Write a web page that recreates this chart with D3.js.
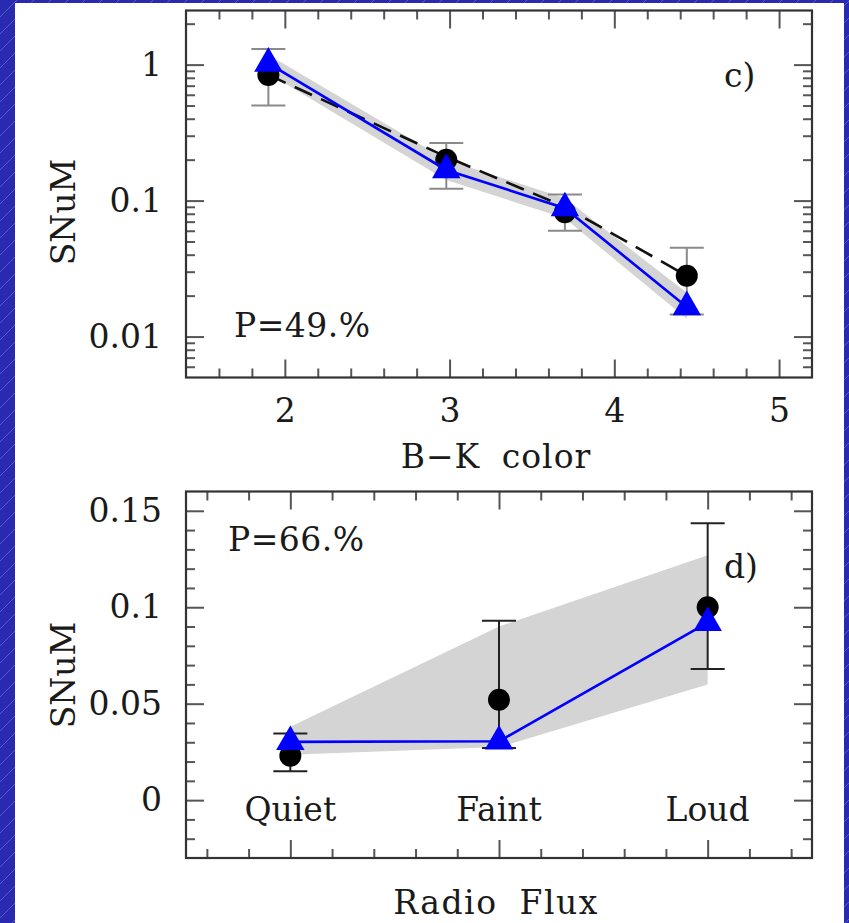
<!DOCTYPE html>
<html>
<head>
<meta charset="utf-8">
<script src="https://cdn.jsdelivr.net/npm/d3@7"></script>
<style>
  html, body { margin: 0; padding: 0; background: #2a2ab0; }
  svg { display: block; }
  text { font-family: "DejaVu Serif", serif; fill: #1a1a1a; }
</style>
</head>
<body>
<div id="chart"></div>
<script>
'use strict'

const width = 849;
const height = 923;
const fs = 33;

/* panel c) : SNuM vs B-K colour (log y) */
const bkColor    = [1.9, 2.98, 3.7, 4.44];
const snumObsC   = [0.84, 0.20, 0.082, 0.028];
const errHiC     = [1.3, 0.265, 0.111, 0.045];
const errLoC     = [0.5, 0.122, 0.06, 0.0145];
const snumFitC   = [0.84, 0.21, 0.09, 0.028];
const snumModelC = [1.02, 0.168, 0.088, 0.0165];
const bandHiC    = [1.18, 0.2, 0.104, 0.021];
const bandLoC    = [0.86, 0.142, 0.074, 0.0135];
const xTicksC    = [2, 3, 4, 5];
const yTicksC    = [0.01, 0.1, 1];

/* panel d) : SNuM vs radio flux */
const radioClass = ['Quiet', 'Faint', 'Loud'];
const radioPos   = [1, 2, 3];
const snumObsD   = [0.023, 0.052, 0.100];
const errHiD     = [0.0345, 0.093, 0.1435];
const errLoD     = [0.015, 0.027, 0.068];
const snumModelD = [0.0302, 0.0305, 0.092];
const bandHiD    = [0.038, 0.09, 0.127];
const bandLoD    = [0.0235, 0.0275, 0.06];
const yTicksD    = [0, 0.05, 0.1, 0.15];

const svg = d3.select('#chart').append('svg')
    .attr('width', width)
    .attr('height', height);

/* blue striped backdrop + white sheet */
const defs = svg.append('defs');
const pat = defs.append('pattern')
    .attr('id', 'stripes')
    .attr('patternUnits', 'userSpaceOnUse')
    .attr('width', 17).attr('height', 17);
pat.append('rect').attr('width', 17).attr('height', 17).attr('fill', '#2a2ab0');
pat.append('line')
    .attr('x1', 0).attr('y1', 17).attr('x2', 17).attr('y2', 0)
    .attr('stroke', '#6262d6').attr('stroke-width', 0.8);

svg.append('rect').attr('width', width).attr('height', height).attr('fill', 'url(#stripes)');
svg.append('rect').attr('x', 15).attr('y', 3).attr('width', 829).attr('height', height - 3).attr('fill', '#fff');

const left = 186, right = 812;

function frameAxes (g, x, y, xMaj, xMin, yMaj, yMin, top, bottom) {
    const tick = (axis, vals, size) => axis.tickValues(vals).tickSize(-size).tickFormat('');
    [[xMaj, 18], [xMin, 9]].forEach(([vals, s]) => {
        g.append('g').attr('transform', `translate(0,${bottom})`).call(tick(d3.axisBottom(x), vals, s));
        g.append('g').attr('transform', `translate(0,${top})`).call(tick(d3.axisTop(x), vals, s));
    });
    [[yMaj, 18], [yMin, 9]].forEach(([vals, s]) => {
        g.append('g').attr('transform', `translate(${left},0)`).call(tick(d3.axisLeft(y), vals, s));
        g.append('g').attr('transform', `translate(${right},0)`).call(tick(d3.axisRight(y), vals, s));
    });
    g.selectAll('.domain').remove();
    g.selectAll('.tick line').attr('stroke', '#555').attr('stroke-width', 2);
    g.append('rect')
        .attr('x', left).attr('y', top)
        .attr('width', right - left).attr('height', bottom - top)
        .attr('fill', 'none').attr('stroke', '#333').attr('stroke-width', 2.2);
}

function errorBars (g, xs, lo, hi, x, y, colour) {
    const eb = g.append('g').attr('stroke', colour).attr('stroke-width', 2);
    xs.forEach((d, i) => {
        eb.append('line').attr('x1', x(d)).attr('x2', x(d)).attr('y1', y(lo[i])).attr('y2', y(hi[i]));
        [lo[i], hi[i]].forEach(v => {
            eb.append('line').attr('x1', x(d) - 17).attr('x2', x(d) + 17).attr('y1', y(v)).attr('y2', y(v));
        });
    });
}

function styleLabels (sel) {
    sel.selectAll('text').attr('font-size', fs).attr('font-family', 'DejaVu Serif').attr('fill', '#1a1a1a');
}

const triangle = d3.symbol().type(d3.symbolTriangle).size(350);

/* ---------- panel c ---------- */
const topC = 10.5, botC = 377.5;
const xC = d3.scaleLinear().domain([1.4, 5.2]).range([left, right]);
const yC = d3.scaleLog().domain([0.005, 2.5]).range([botC, topC]);

const gC = svg.append('g');
gC.append('path')
    .datum(bandLoC.map((d, i) => [d, bandHiC[i]]))
    .attr('d', d3.area().x((d, i) => xC(bkColor[i])).y0(d => yC(d[0])).y1(d => yC(d[1])))
    .attr('fill', '#d4d4d4');

gC.append('path')
    .datum(snumFitC)
    .attr('d', d3.line().x((d, i) => xC(bkColor[i])).y(d => yC(d)))
    .attr('fill', 'none').attr('stroke', '#111').attr('stroke-width', 2.6)
    .attr('stroke-dasharray', '19,10');

errorBars(gC, bkColor, errLoC, errHiC, xC, yC, '#8a8a8a');

gC.selectAll('circle').data(snumObsC).enter().append('circle')
    .attr('cx', (d, i) => xC(bkColor[i])).attr('cy', d => yC(d))
    .attr('r', 11).attr('fill', '#000');

gC.append('path')
    .datum(snumModelC)
    .attr('d', d3.line().x((d, i) => xC(bkColor[i])).y(d => yC(d)))
    .attr('fill', 'none').attr('stroke', '#0000ff').attr('stroke-width', 2.6);

gC.selectAll('.tri').data(snumModelC).enter().append('path')
    .attr('class', 'tri')
    .attr('d', triangle)
    .attr('transform', (d, i) => `translate(${xC(bkColor[i])},${yC(d)})`)
    .attr('fill', '#0000ff');

const minorLog = [];
[0.001, 0.01, 0.1, 1].forEach(dec => d3.range(2, 10).forEach(k => {
    const v = dec * k;
    if (v > 0.005 && v < 2.5) minorLog.push(v);
}));
frameAxes(gC, xC, yC, xTicksC,
    d3.range(1.6, 5.2, 0.2).filter(v => Math.abs(v - Math.round(v)) > 0.01),
    yTicksC, minorLog, topC, botC);

gC.append('g').attr('transform', `translate(0,${botC})`)
    .call(d3.axisBottom(xC).tickValues(xTicksC).tickSize(0).tickPadding(21).tickFormat(d3.format('d')))
    .call(g => g.select('.domain').remove())
    .call(styleLabels);
gC.append('g').attr('transform', `translate(${left},0)`)
    .call(d3.axisLeft(yC).tickValues(yTicksC).tickSize(0).tickPadding(24).tickFormat(d => String(d)))
    .call(g => g.select('.domain').remove())
    .call(styleLabels);

gC.append('text').attr('x', 496).attr('y', 468).attr('text-anchor', 'middle').attr('font-size', fs)
    .attr('word-spacing', 10).attr('letter-spacing', 1).text('B\u2212K color');
gC.append('text').attr('transform', 'translate(75,212) rotate(-90)').attr('text-anchor', 'middle').attr('font-size', fs).text('SNuM');
gC.append('text').attr('x', 724).attr('y', 87).attr('font-size', fs).text('c)');
gC.append('text').attr('x', 234).attr('y', 337).attr('font-size', fs).attr('letter-spacing', 0.5).text('P=49.%');

/* ---------- panel d ---------- */
const topD = 491.5, botD = 858;
const xD = d3.scaleLinear().domain([0.5, 3.5]).range([left, right]);
const yD = d3.scaleLinear().domain([-0.03, 0.16]).range([botD, topD]);

const gD = svg.append('g');
gD.append('path')
    .datum(bandLoD.map((d, i) => [d, bandHiD[i]]))
    .attr('d', d3.area().x((d, i) => xD(radioPos[i])).y0(d => yD(d[0])).y1(d => yD(d[1])))
    .attr('fill', '#d4d4d4');

errorBars(gD, radioPos, errLoD, errHiD, xD, yD, '#222');

gD.selectAll('circle').data(snumObsD).enter().append('circle')
    .attr('cx', (d, i) => xD(radioPos[i])).attr('cy', d => yD(d))
    .attr('r', 11).attr('fill', '#000');

gD.append('path')
    .datum(snumModelD)
    .attr('d', d3.line().x((d, i) => xD(radioPos[i])).y(d => yD(d)))
    .attr('fill', 'none').attr('stroke', '#0000ff').attr('stroke-width', 2.6);

gD.selectAll('.tri').data(snumModelD).enter().append('path')
    .attr('class', 'tri')
    .attr('d', triangle)
    .attr('transform', (d, i) => `translate(${xD(radioPos[i])},${yD(d)})`)
    .attr('fill', '#0000ff');

frameAxes(gD, xD, yD, radioPos,
    d3.range(0.6, 3.5, 0.2).filter(v => Math.abs(v - Math.round(v)) > 0.01),
    yTicksD, d3.range(-0.02, 0.16, 0.01).filter(v => Math.abs(v / 0.05 - Math.round(v / 0.05)) > 0.01),
    topD, botD);

gD.append('g').attr('transform', `translate(${left},0)`)
    .call(d3.axisLeft(yD).tickValues(yTicksD).tickSize(0).tickPadding(24).tickFormat(d => String(d)))
    .call(g => g.select('.domain').remove())
    .call(styleLabels);

gD.selectAll('.cat').data(radioClass).enter().append('text')
    .attr('class', 'cat')
    .attr('x', (d, i) => xD(radioPos[i])).attr('y', 821)
    .attr('text-anchor', 'middle').attr('font-size', fs)
    .text(d => d);

gD.append('text').attr('x', 496).attr('y', 914).attr('text-anchor', 'middle').attr('font-size', fs)
    .attr('word-spacing', 10).attr('letter-spacing', 1.5).text('Radio Flux');
gD.append('text').attr('transform', 'translate(75,675) rotate(-90)').attr('text-anchor', 'middle').attr('font-size', fs).text('SNuM');
gD.append('text').attr('x', 724).attr('y', 578).attr('font-size', fs).text('d)');
gD.append('text').attr('x', 228).attr('y', 551).attr('font-size', fs).attr('letter-spacing', 0.5).text('P=66.%');
</script>
</body>
</html>
